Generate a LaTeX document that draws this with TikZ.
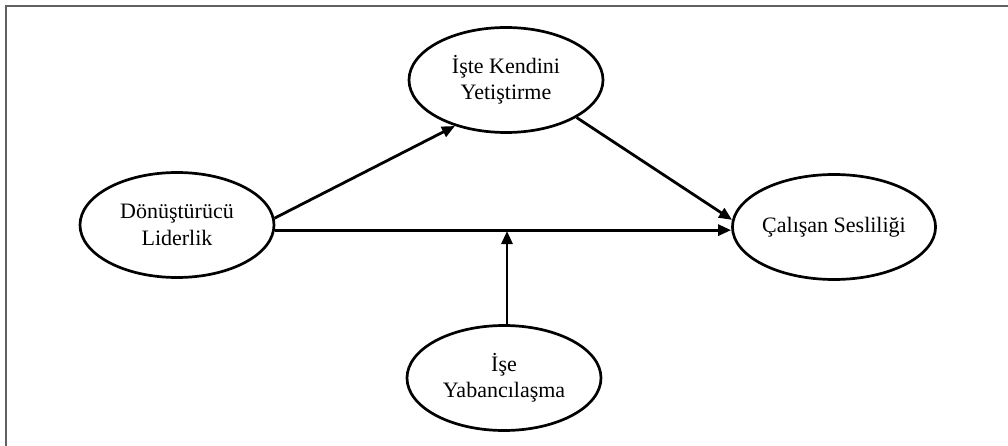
\documentclass[tikz,border=0pt]{standalone}
\usepackage{fontspec}
\setmainfont{Liberation Serif}
\usetikzlibrary{arrows.meta,shapes.geometric}
\begin{document}
\begin{tikzpicture}[x=1pt,y=-1pt,
  construct/.style={ellipse,draw=black,line width=2.7pt,inner sep=0pt,
    minimum width=194pt,minimum height=105pt,align=center,
    font=\fontsize{22}{26.5}\selectfont},
  link/.style={draw=black,line width=2.8pt,
    -{Triangle[length=13pt,width=11pt]}},
  frame/.style={draw=black!62,line width=2pt}]
  \useasboundingbox (0,0) rectangle (1008,446);
  % frame: top and left rules only
  \draw[frame] (1008,6) -- (6,6) -- (6,446);

  % constructs
  \node[construct] (T) at (506,80) {İşte Kendini\\Yetiştirme};
  \node[construct] (L) at (177,225) {Dönüştürücü\\Liderlik};
  \node[construct] (R) at (834,227) {Çalışan Sesliliği};
  \node[construct] (B) at (504,378) {İşe\\Yabancılaşma};

  % paths
  \draw[link] (L.4) -- (T.-138);
  \draw[link] (T.-28) -- (R.176);
  \draw[link] (L.-3) -- (L.-3 -| R.west);
  \coordinate (M) at (507,231);
  \draw[link] (B.north -| M) -- (M);
\end{tikzpicture}
\end{document}
